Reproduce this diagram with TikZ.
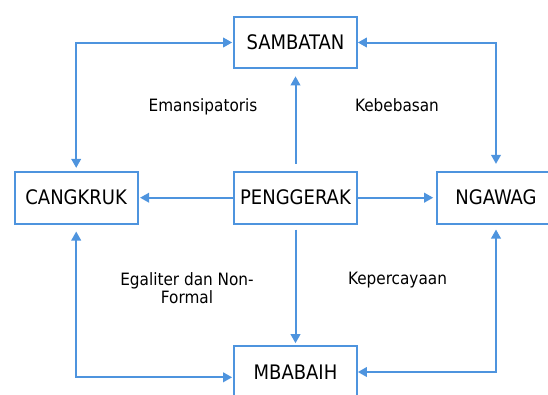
\documentclass[tikz,border=0pt]{standalone}
\usepackage{fontspec}
\setmainfont{DejaVu Sans Condensed}
\usetikzlibrary{arrows.meta}
\definecolor{lineblue}{RGB}{78,148,222}
\tikzset{
  box/.style={draw=lineblue, line width=2pt, minimum width=122.7pt, minimum height=51.6pt, inner sep=0pt, font=\fontsize{20}{24}\selectfont, text=black},
  conn/.style={draw=lineblue, line width=2pt, {Triangle[length=9pt,width=9.5pt]}-{Triangle[length=9pt,width=9.5pt]}},
  oneway/.style={draw=lineblue, line width=2pt, -{Triangle[length=9pt,width=9.5pt]}},
  lbl/.style={font=\fontsize{17}{18.3}\selectfont, text=black, inner sep=0pt}
}
\begin{document}
\begin{tikzpicture}[x=1pt,y=-1pt]
\useasboundingbox (0,0) rectangle (548,394);
\clip (0,0) rectangle (548,394);
\node[box] (sam) at (295.5,42.5) {SAMBATAN};
\node[box] (can) at (76.2,197.7) {CANGKRUK};
\node[box] (pen) at (295.5,197.7) {PENGGERAK};
\node[box, minimum width=118.6pt] (nga) at (496,197.7) {NGAWAG};
\node[box] (mba) at (295.5,372) {MBABAIH};
\node[lbl, anchor=base] (l1) at (203,111) {Emansipatoris};
\node[lbl, anchor=base] (l2) at (397,111) {Kebebasan};
\node[lbl, align=center] (l3) at (187,288.5) {Egaliter dan Non-\\Formal};
\node[lbl, anchor=base] (l4) at (397.5,284.3) {Kepercayaan};
% connectors
\draw[conn, shorten <=3pt, shorten >=1pt] (can.north) |- (sam.west);
\draw[conn, shorten <=7pt, shorten >=0pt] (nga.north) |- (sam.east);
\draw[oneway, shorten <=7pt, shorten >=7pt] (pen.north) -- (sam.south);
\draw[oneway, shorten >=1.5pt] (pen.west) -- (can.east);
\draw[oneway, shorten >=2.5pt] (pen.east) -- (nga.west);
\draw[oneway, shorten <=5pt, shorten >=2pt] (pen.south) -- (mba.north);
\draw[conn, shorten <=7pt, shorten >=1pt] (can.south) |- ([yshift=-5.3pt]mba.west);
\draw[conn, shorten <=5pt, shorten >=0pt] (nga.south) |- (mba.east);
\end{tikzpicture}
\end{document}
